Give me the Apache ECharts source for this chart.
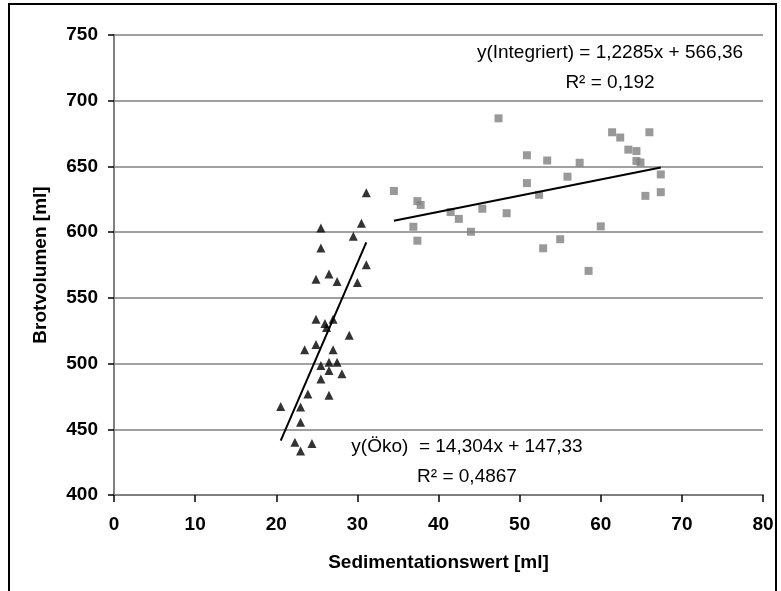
<!DOCTYPE html>
<html>
<head>
<meta charset="utf-8">
<script src="https://cdn.jsdelivr.net/npm/echarts@6/dist/echarts.min.js"></script>
<style>html,body{margin:0;padding:0;background:#fff}#c{width:781px;height:591px}</style>
</head>
<body>
<div id="c"></div>
<script>
// Öko (triangles)
var okoX = [20.55, 23.0, 23.0, 22.3, 24.4, 23.0, 23.5, 23.9, 24.9, 24.9, 24.9, 25.5, 25.5, 25.5, 25.5, 26.0, 26.2, 26.5, 26.5, 26.5, 26.5, 27.0, 27.0, 27.5, 27.5, 28.1, 29.0, 29.5, 30.0, 30.5, 31.1, 31.1];
var okoY = [467.3, 467.0, 455.3, 440.1, 439.2, 433.5, 510.6, 476.8, 533.8, 514.6, 564.2, 603.2, 588.0, 498.6, 488.2, 530.4, 527.5, 568.2, 501.1, 494.8, 475.9, 533.8, 510.6, 562.5, 501.1, 492.3, 521.5, 596.9, 561.6, 606.7, 575.1, 629.9];
// Integriert (squares)
var intX = [34.5, 36.9, 37.4, 37.8, 37.4, 41.5, 42.5, 44.0, 45.4, 47.4, 48.4, 50.9, 50.9, 52.4, 52.9, 53.4, 55.0, 55.9, 57.4, 58.5, 60.0, 61.4, 62.4, 63.4, 64.4, 64.4, 64.9, 65.5, 66.0, 67.4, 67.4];
var intY = [631.3, 604.1, 623.6, 620.7, 593.5, 615.3, 610.1, 600.3, 617.8, 686.6, 614.4, 658.5, 637.3, 628.4, 587.7, 654.5, 594.6, 642.2, 652.8, 570.5, 604.4, 676.0, 672.0, 662.8, 661.7, 654.2, 653.0, 627.6, 676.0, 643.9, 630.4];
// Trend line endpoints (as drawn)
var okoTrendX = [20.55, 31.1];
var okoTrendY = [441.3, 592.2];
var intTrendX = [34.5, 67.4];
var intTrendY = [608.7, 649.2];
var xTicks = [0, 80, 10];
var yTicks = [400, 750, 50];
var eqInt = ['y(Integriert) = 1,2285x + 566,36', 'R² = 0,192'];
var eqOko = ['y(Öko)  = 14,304x + 147,33', 'R² = 0,4867'];

function zip(a, b) { return a.map(function (v, i) { return [v, b[i]]; }); }

var FONT = '"Liberation Sans", Arial, sans-serif';
var chart = echarts.init(document.getElementById('c'), null, {renderer: 'canvas'});
chart.setOption({
  animation: false,
  backgroundColor: '#fff',
  grid: {left: 114, right: 18, top: 35, bottom: 96},
  xAxis: {
    type: 'value', min: xTicks[0], max: xTicks[1], interval: xTicks[2],
    name: 'Sedimentationswert [ml]', nameLocation: 'middle', nameGap: 58,
    nameTextStyle: {fontFamily: FONT, fontWeight: 'bold', fontSize: 19, color: '#000'},
    axisLine: {show: true, onZero: false, lineStyle: {color: '#808080', width: 2}},
    axisTick: {show: true, inside: false, length: 7, lineStyle: {color: '#000', width: 1.5}},
    axisLabel: {fontFamily: FONT, fontWeight: 'bold', fontSize: 19, color: '#000', margin: 20},
    splitLine: {show: false}
  },
  yAxis: [{
    type: 'value', min: yTicks[0], max: yTicks[1], interval: yTicks[2],
    name: 'Brotvolumen [ml]', nameLocation: 'middle', nameGap: 64, nameRotate: 90,
    nameTextStyle: {fontFamily: FONT, fontWeight: 'bold', fontSize: 19, color: '#000'},
    axisLine: {show: true, onZero: false, lineStyle: {color: '#000', width: 1.5}},
    axisTick: {show: true, inside: false, length: 6, lineStyle: {color: '#000', width: 1.5}},
    axisLabel: {fontFamily: FONT, fontWeight: 'bold', fontSize: 19, color: '#000', margin: 16},
    splitLine: {show: true, lineStyle: {color: '#808080', width: 1.5}}
  }, {
    type: 'value', position: 'right', min: yTicks[0], max: yTicks[1], interval: yTicks[2],
    axisLine: {show: true, lineStyle: {color: '#808080', width: 2}},
    axisTick: {show: false}, axisLabel: {show: false}, splitLine: {show: false}
  }],
  series: [{
    type: 'scatter', name: 'Öko', symbol: 'triangle', symbolSize: [9, 9],
    itemStyle: {color: '#000'}, data: zip(okoX, okoY), z: 5
  }, {
    type: 'scatter', name: 'Integriert', symbol: 'rect', symbolSize: 8,
    itemStyle: {color: '#808080'}, data: zip(intX, intY), z: 4
  }, {
    type: 'line', data: zip(okoTrendX, okoTrendY), showSymbol: false, symbol: 'none',
    lineStyle: {color: '#000', width: 2}, z: 6
  }, {
    type: 'line', data: zip(intTrendX, intTrendY), showSymbol: false, symbol: 'none',
    lineStyle: {color: '#000', width: 2}, z: 6
  }],
  graphic: [
    {type: 'rect', shape: {x: 9, y: 4, width: 767, height: 640}, style: {fill: 'none', stroke: '#000', lineWidth: 2}, silent: true},
    {type: 'text', x: 610, y: 53, style: {text: eqInt[0], font: '19px ' + FONT, fill: '#000', textAlign: 'center', textVerticalAlign: 'middle'}},
    {type: 'text', x: 610, y: 83, style: {text: eqInt[1], font: '19px ' + FONT, fill: '#000', textAlign: 'center', textVerticalAlign: 'middle'}},
    {type: 'text', x: 467, y: 447, style: {text: eqOko[0], font: '19px ' + FONT, fill: '#000', textAlign: 'center', textVerticalAlign: 'middle'}},
    {type: 'text', x: 467, y: 477, style: {text: eqOko[1], font: '19px ' + FONT, fill: '#000', textAlign: 'center', textVerticalAlign: 'middle'}}
  ]
});
</script>
</body>
</html>
